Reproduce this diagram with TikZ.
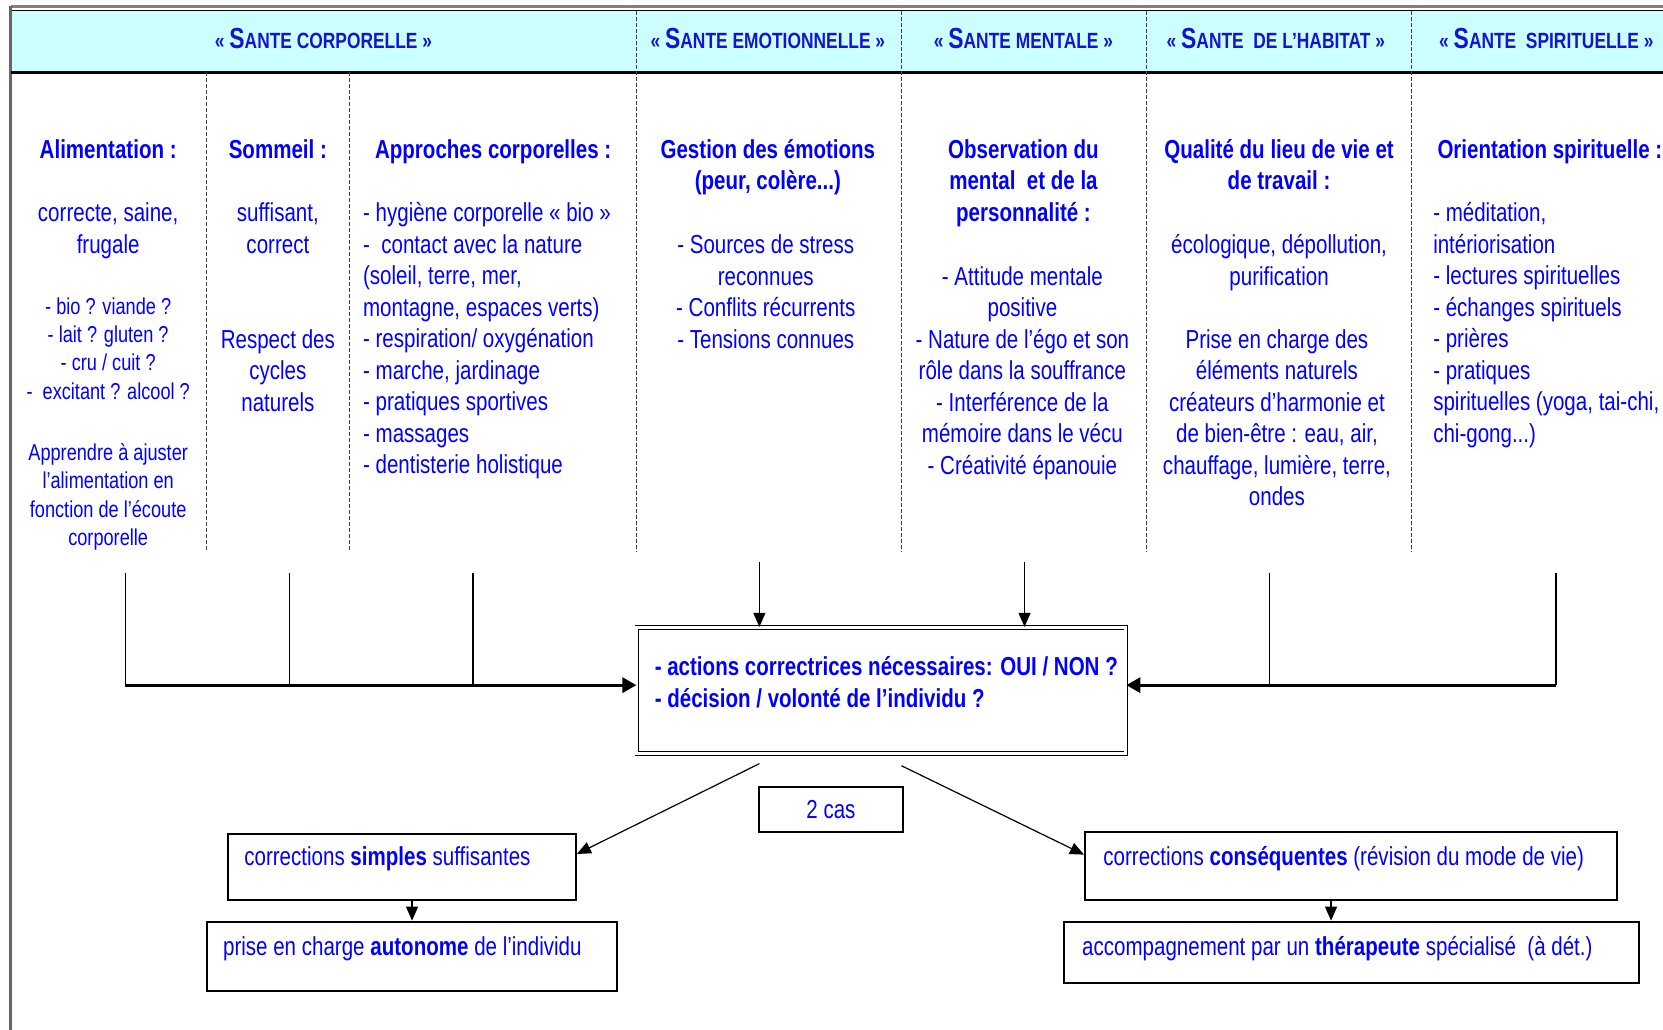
\documentclass[tikz,border=0pt]{standalone}
\usepackage{fontspec}
\setmainfont{Liberation Sans}[FakeStretch=0.79]
\usetikzlibrary{arrows.meta,calc}
\definecolor{txtblue}{RGB}{0,0,255}
\definecolor{hdblue}{RGB}{20,20,210}
\definecolor{hdfill}{RGB}{204,255,255}
\newcommand\fN{\fontsize{13}{15.75}\selectfont}
\newcommand\fS{\fontsize{11.5}{14.2}\selectfont}
\newcommand\hdtxt[1]{{\fontsize{11}{13}\selectfont «~}{\fontsize{14.5}{16}\selectfont S}{\fontsize{11}{13}\selectfont #1~»}}
\begin{document}
\begin{tikzpicture}[x=0.5303pt,y=-0.5303pt,
  txt/.style={inner sep=0pt, text=txtblue, font=\fN, align=center, anchor=north},
  txtl/.style={inner sep=0pt, text=txtblue, font=\fN, align=left, anchor=north west},
  bold/.style={font=\fN\bfseries},
  hdr/.style={inner sep=0pt, text=hdblue, font=\bfseries, anchor=base},
  sep/.style={draw=black!75, line width=0.5pt, dash pattern=on 2pt off 1pt},
  thinl/.style={draw=black, line width=0.6pt},
  busl/.style={draw=black, line width=1.5pt, -{Triangle[length=7pt,width=7.5pt]}},
  arr/.style={draw=black, line width=0.6pt, -{Triangle[length=7pt,width=6pt]}},
  box/.style={draw=black, line width=1pt, inner sep=0pt},
]
\useasboundingbox (0,0) rectangle (1568,971);
% frame and header band
\fill[hdfill] (10,10) rectangle (1568,68);
\draw[gray, line width=1.2pt] (10,6) -- (1568,6);
\draw[black, line width=0.5pt] (10,10) -- (1568,10);
\draw[gray!80!black, line width=1.6pt] (10,6) -- (10,971);
\draw[black, line width=1.6pt] (10,68) -- (1568,68);
% column separators
\foreach \x in {600,850,1081,1331} \draw[sep] (\x,10) -- (\x,520);
\foreach \x in {195,330} \draw[sep] (\x,68) -- (\x,520);
% headers
\node[hdr] (t1) at (305,46) {\hdtxt{ANTE CORPORELLE}};
\node[hdr] (t2) at (724,46) {\hdtxt{ANTE EMOTIONNELLE}};
\node[hdr] (t3) at (965,46) {\hdtxt{ANTE MENTALE}};
\node[hdr] (t4) at (1203,46) {\hdtxt{ANTE~ DE L’HABITAT}};
\node[hdr] (t5) at (1458,46) {\hdtxt{ANTE~ SPIRITUELLE}};
% column 1
\node[txt,bold] (h1) at (102,128) {\strut Alimentation :};
\node[txt] (c1a) at (102,188) {\strut correcte, saine,\\frugale};
\node[txt,font=\fS] (c1b) at (102,277) {\strut - bio ? viande ?\\- lait ? gluten ?\\- cru / cuit ?\\-~ excitant ? alcool ?};
\node[txt,font=\fS] (c1c) at (102,415) {\strut Apprendre à ajuster\\l’alimentation en\\fonction de l’écoute\\corporelle};
% column 2
\node[txt,bold] (h2) at (262,128) {\strut Sommeil :};
\node[txt] (c2a) at (262,188) {\strut suffisant,\\correct};
\node[txt] (c2b) at (262,307) {\strut Respect des\\cycles\\naturels};
% column 3
\node[txt,bold] (h3) at (465,128) {\strut Approches corporelles :};
\node[txtl] (c3) at (342,188) {\strut - hygiène corporelle « bio »\\-~ contact avec la nature\\(soleil, terre, mer,\\montagne, espaces verts)\\- respiration/ oxygénation\\- marche, jardinage\\- pratiques sportives\\- massages\\- dentisterie holistique};
% column 4
\node[txt,bold] (h4) at (724,128) {\strut Gestion des émotions\\(peur, colère...)};
\node[txt] (c4) at (722,218) {\strut - Sources de stress\\reconnues\\- Conflits récurrents\\- Tensions connues};
% column 5
\node[txt,bold] (h5) at (965,128) {\strut Observation du\\mental~ et de la\\personnalité :};
\node[txt] (c5) at (964,248) {\strut - Attitude mentale\\positive\\- Nature de l’égo et son\\rôle dans la souffrance\\- Interférence de la\\mémoire dans le vécu\\- Créativité épanouie};
% column 6
\node[txt,bold] (h6) at (1206,128) {\strut Qualité du lieu de vie et\\de travail :};
\node[txt] (c6a) at (1206,218) {\strut écologique, dépollution,\\purification};
\node[txt] (c6b) at (1204,307) {\strut Prise en charge des\\éléments naturels\\créateurs d’harmonie et\\de bien-être : eau, air,\\chauffage, lumière, terre,\\ondes};
% column 7
\node[txtl,bold] (h7) at (1355,128) {\strut Orientation spirituelle :};
\node[txtl] (c7) at (1351,188) {\strut - méditation,\\intériorisation\\- lectures spirituelles\\- échanges spirituels\\- prières\\- pratiques\\spirituelles (yoga, tai-chi,\\chi-gong...)};
% central box
\node[draw=black, line width=0.45pt, double=white, double distance=1.4pt, inner sep=0pt,
  minimum width=461*0.5303pt, minimum height=119*0.5303pt] (C) at (831,651) {};
\node[txtl,bold] (Ct) at (617,616) {\strut - actions correctrices nécessaires: OUI / NON ?\\- décision / volonté de l’individu ?};
% bottom boxes
\node[box, minimum width=328*0.5303pt, minimum height=63*0.5303pt] (B1) at (379,817.5) {};
\node[box, minimum width=502*0.5303pt, minimum height=65*0.5303pt] (B2) at (1274,816.5) {};
\node[box, minimum width=387*0.5303pt, minimum height=65*0.5303pt] (B3) at (388.5,901.5) {};
\node[box, minimum width=542*0.5303pt, minimum height=58*0.5303pt] (B4) at (1274,898) {};
\node[box, minimum width=135*0.5303pt, minimum height=42*0.5303pt, text=txtblue, font=\fN] (K) at (783.5,763) {2 cas};
\node[txtl] (B1t) at (230,795) {\strut corrections \textbf{simples} suffisantes};
\node[txtl] (B2t) at (1040,795) {\strut corrections \textbf{conséquentes} (révision du mode de vie)};
\node[txtl] (B3t) at (210,880) {\strut prise en charge \textbf{autonome} de l’individu};
\node[txtl] (B4t) at (1020,880) {\strut accompagnement par un \textbf{thérapeute} spécialisé~ (à dét.)};
% connectors: left bus
\coordinate (v1) at (118,540);
\coordinate (v2) at (273,540);
\coordinate (v3) at (446,540);
\coordinate (b1) at (118,646);
\draw[thinl] (v1) -- (b1);
\draw[thinl] (v2) -- (v2 |- b1);
\draw[thinl] (v3) -- (v3 |- b1);
\draw[busl] (b1) -- (b1 -| C.west);
% right bus
\coordinate (v6) at (1197,540);
\coordinate (v7) at (1467,540);
\coordinate (b2) at (1467,646);
\draw[thinl] (v7) -- (b2);
\draw[thinl] (v6) -- (v6 |- b2);
\draw[busl] (b2) -- (b2 -| C.east);
% top arrows
\coordinate (d4) at (716,530);
\coordinate (d5) at (966,530);
\draw[arr] (d4) -- (d4 |- C.north);
\draw[arr] (d5) -- (d5 |- C.north);
% diagonal arrows
\coordinate (s1) at (716,720);
\coordinate (s2) at (850,722);
\draw[arr] (s1) -- ($(B1.north east)!0.31!(B1.south east)$);
\draw[arr] (s2) -- ($(B2.north west)!0.34!(B2.south west)$);
% down arrows
\draw[arr] (B3.north |- B1.south) -- (B3.north);
\draw[arr] ($(B2.south)+(-19,0)$) -- ($(B4.north)+(-19,0)$);
\end{tikzpicture}
\end{document}
